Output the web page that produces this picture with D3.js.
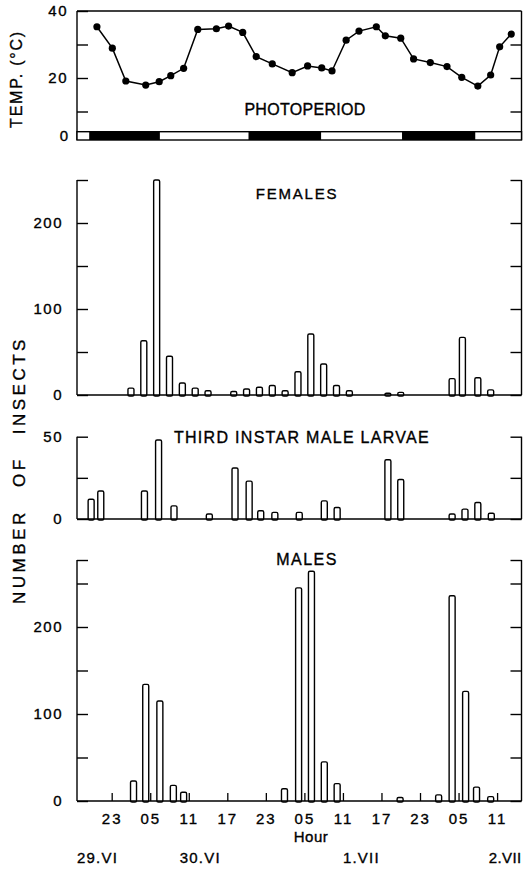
<!DOCTYPE html>
<html>
<head>
<meta charset="utf-8">
<script src="https://cdn.jsdelivr.net/npm/d3@7"></script>
<style>
  html, body { margin: 0; padding: 0; background: #fff; }
  svg { display: block; }
  text { font-family: "Liberation Sans", Arial, sans-serif; fill: #000; stroke: #000; stroke-width: 0.35px; }
</style>
</head>
<body>
<svg id="chart" width="524" height="870"></svg>
<script>
// ---------- DATA (hours counted from 29.VI 00:00) ----------
const tempHours  = [20.7, 23.1, 25.2, 28.3, 30.4, 32.2, 34.2, 36.4, 39.3, 41.2, 43.4, 45.5, 48.0, 51.1, 53.5,
                    55.7, 57.3, 59.5, 61.5, 64.2, 65.6, 68.0, 70.0, 72.6, 75.2, 77.5, 80.0, 82.0, 83.4, 85.2];
const tempValues = [35.3, 28.9, 19.1, 17.9, 18.9, 20.7, 22.9, 34.5, 34.7, 35.5, 33.6, 26.4, 24.2, 21.6, 23.6,
                    23.0, 22.1, 31.3, 34.0, 35.3, 32.6, 31.9, 25.7, 24.6, 23.4, 20.2, 17.6, 20.9, 29.3, 33.1];
const darkStart = [19.5, 44.3, 68.2];
const darkEnd   = [30.5, 55.6, 79.6];

const femaleHours  = [26, 28, 30, 32, 34, 36, 38, 42, 44, 46, 48, 50, 52, 54, 56, 58, 60, 66, 68, 76, 77.6, 80, 82];
const femaleValues = [8, 63, 250, 45, 14, 8, 5, 4, 7, 9, 11, 5, 27, 71, 36, 11, 5, 2, 3, 19, 67, 20, 6];

const larvaeHours  = [19.8, 21.3, 28.1, 30.3, 32.7, 38.2, 42.2, 44.4, 46.2, 48.4, 52.2, 56.1, 58.1, 66, 68, 76, 78, 80, 82.1];
const larvaeValues = [12, 17, 17, 48, 8, 3, 31, 23, 5, 4, 4, 11, 7, 36, 24, 3, 6, 10, 3.5];

const maleHours  = [26.4, 28.3, 30.5, 32.6, 34.2, 49.9, 52.1, 54.1, 56.1, 58.1, 67.9, 73.9, 76, 78.1, 79.8, 82];
const maleValues = [23, 134, 115, 18, 10, 14, 245, 264, 45, 20, 4, 7, 236, 126, 16, 5];

const hourTicks  = [23, 29, 35, 41, 47, 53, 59, 65, 71, 77, 83];
const hourLabels = ["23", "05", "11", "17", "23", "05", "11", "17", "23", "05", "11"];
const dateLabels = ["29.VI", "30.VI", "1.VII", "2.VII"];
const dateHours  = [17.6, 33.6, 59.0, 81.7];

// ---------- LAYOUT ----------
const svg = d3.select("#chart");
const XL = 77, XR = 521.5;
const x = d3.scaleLinear().domain([17.6, 86.8]).range([XL, XR]);
const TICK = 11;

function styleAxis(g) {
  g.select(".domain").remove();
  g.selectAll(".tick line").attr("stroke", "#000").attr("stroke-width", 1.4);
  g.selectAll(".tick text").style("font-family", "Liberation Sans, Arial, sans-serif")
    .style("font-size", "15px").style("letter-spacing", "1.5px").attr("fill", "#000");
}

// ---------- TEMPERATURE PANEL ----------
const yT = d3.scaleLinear().domain([0, 40]).range([145, 11]);
const tTop = 11, tBot = 140, barTop = 131.7;

const gT = svg.append("g");
gT.append("line").attr("x1", XL).attr("x2", XR).attr("y1", tTop).attr("y2", tTop)
  .attr("stroke", "#000").attr("stroke-width", 1.4);
[XL, XR].forEach(xx => gT.append("line").attr("x1", xx).attr("x2", xx).attr("y1", tTop).attr("y2", tBot)
  .attr("stroke", "#000").attr("stroke-width", 1.4));

const tAxisL = d3.axisLeft(yT).tickValues([10, 20, 30, 40]).tickSize(-TICK).tickSizeOuter(0).tickPadding(9)
  .tickFormat(d => (d === 20 || d === 40) ? d : "");
const tAxisR = d3.axisRight(yT).tickValues([10, 20, 30]).tickSize(-TICK).tickSizeOuter(0).tickFormat("");
gT.append("g").attr("transform", `translate(${XL},0)`).call(tAxisL).call(styleAxis);
gT.append("g").attr("transform", `translate(${XR},0)`).call(tAxisR).call(styleAxis);
gT.append("text").attr("x", 68).attr("y", (barTop + tBot) / 2).attr("dy", "0.35em")
  .attr("text-anchor", "end").style("font-size", "15px").text("0");

// photoperiod bar
gT.append("rect").attr("x", XL).attr("y", barTop).attr("width", XR - XL).attr("height", tBot - barTop)
  .attr("fill", "#fff").attr("stroke", "#000").attr("stroke-width", 1.4);
gT.selectAll("rect.dark").data(darkStart).join("rect").attr("class", "dark")
  .attr("x", (d) => x(d)).attr("width", (d, i) => x(darkEnd[i]) - x(d))
  .attr("y", barTop).attr("height", tBot - barTop).attr("fill", "#000");

// temperature line
const line = d3.line().x((d, i) => x(tempHours[i])).y(d => yT(d));
gT.append("path").datum(tempValues).attr("d", line).attr("fill", "none")
  .attr("stroke", "#000").attr("stroke-width", 1.5);
gT.selectAll("circle").data(tempValues).join("circle")
  .attr("cx", (d, i) => x(tempHours[i])).attr("cy", d => yT(d)).attr("r", 3.6).attr("fill", "#000");

gT.append("text").attr("x", 305).attr("y", 115).attr("text-anchor", "middle")
  .style("font-size", "16px").style("letter-spacing", "0.3px").text("PHOTOPERIOD");
gT.append("text").attr("transform", "translate(22,79) rotate(-90)").attr("text-anchor", "middle")
  .style("font-size", "16px").style("letter-spacing", "1.8px").text("TEMP. (°C)");

// ---------- BAR PANELS ----------
function barPanel(opts) {
  const { hours, values, base, pxPerUnit, topVal, ticks, labels, title, titleX, titleY, titleSize, titleSpacing } = opts;
  const y = d3.scaleLinear().domain([0, topVal]).range([base, base - topVal * pxPerUnit]);
  const g = svg.append("g");
  [XL, XR].forEach(xx => g.append("line").attr("x1", xx).attr("x2", xx).attr("y1", y(topVal)).attr("y2", base)
    .attr("stroke", "#000").attr("stroke-width", 1.4));
  const aL = d3.axisLeft(y).tickValues(ticks).tickSize(-TICK).tickSizeOuter(0).tickPadding(14)
    .tickFormat(d => labels.includes(d) ? d : "");
  const aR = d3.axisRight(y).tickValues(ticks).tickSize(-TICK).tickSizeOuter(0).tickFormat("");
  g.append("g").attr("transform", `translate(${XL},0)`).call(aL).call(styleAxis);
  g.append("g").attr("transform", `translate(${XR},0)`).call(aR).call(styleAxis);
  const bw = 6;
  g.selectAll("rect.bar").data(values).join("rect").attr("class", "bar")
    .attr("x", (d, i) => x(hours[i]) - bw / 2).attr("width", bw)
    .attr("y", d => y(d)).attr("height", d => base - y(d) + 1)
    .attr("rx", 1.5)
    .attr("fill", "#fff").attr("stroke", "#000").attr("stroke-width", 1.4);
  g.append("line").attr("x1", XL).attr("x2", XR).attr("y1", base).attr("y2", base)
    .attr("stroke", "#000").attr("stroke-width", 1.5);
  g.append("text").attr("x", titleX).attr("y", titleY).attr("text-anchor", "middle")
    .style("font-size", titleSize + "px").style("letter-spacing", titleSpacing + "px").text(title);
  return { g, y };
}

barPanel({ hours: femaleHours, values: femaleValues, base: 395, pxPerUnit: 0.86, topVal: 250,
  ticks: [0, 50, 100, 150, 200, 250], labels: [0, 100, 200],
  title: "FEMALES", titleX: 297, titleY: 199, titleSize: 15, titleSpacing: 1.8 });

barPanel({ hours: larvaeHours, values: larvaeValues, base: 519, pxPerUnit: 1.646, topVal: 50,
  ticks: [0, 25, 50], labels: [0, 50],
  title: "THIRD INSTAR MALE LARVAE", titleX: 302, titleY: 443, titleSize: 16, titleSpacing: 1.3 });

barPanel({ hours: maleHours, values: maleValues, base: 801, pxPerUnit: 0.87, topVal: 277,
  ticks: [0, 50, 100, 150, 200, 250, 277], labels: [0, 100, 200],
  title: "MALES", titleX: 307, titleY: 565, titleSize: 16, titleSpacing: 1.5 });

// hour axis under males
const xAxis = d3.axisBottom(x).tickValues(hourTicks).tickSize(-8).tickSizeOuter(0).tickPadding(12)
  .tickFormat((d, i) => hourLabels[i]);
const gx = svg.append("g").attr("transform", "translate(0,801)").call(xAxis);
gx.select(".domain").remove();
gx.selectAll(".tick line").attr("stroke", "#000").attr("stroke-width", 1.3);
gx.selectAll(".tick text").style("font-family", "Liberation Sans, Arial, sans-serif")
  .style("font-size", "15px").style("letter-spacing", "2px").attr("fill", "#000");

svg.append("text").attr("x", 311).attr("y", 842).attr("text-anchor", "middle")
  .style("font-size", "15px").style("letter-spacing", "0.5px").text("Hour");

svg.selectAll("text.date").data(dateLabels).join("text").attr("class", "date")
  .attr("x", (d, i) => x(dateHours[i])).attr("y", 863)
  .style("font-size", "15px").style("letter-spacing", (d, i) => i === 3 ? "0.4px" : "1.2px").text(d => d);

svg.append("text").attr("transform", "translate(25,470) rotate(-90)").attr("text-anchor", "middle")
  .style("font-size", "17px").style("letter-spacing", "3.5px").style("word-spacing", "14px")
  .text("NUMBER OF INSECTS");
</script>
</body>
</html>
